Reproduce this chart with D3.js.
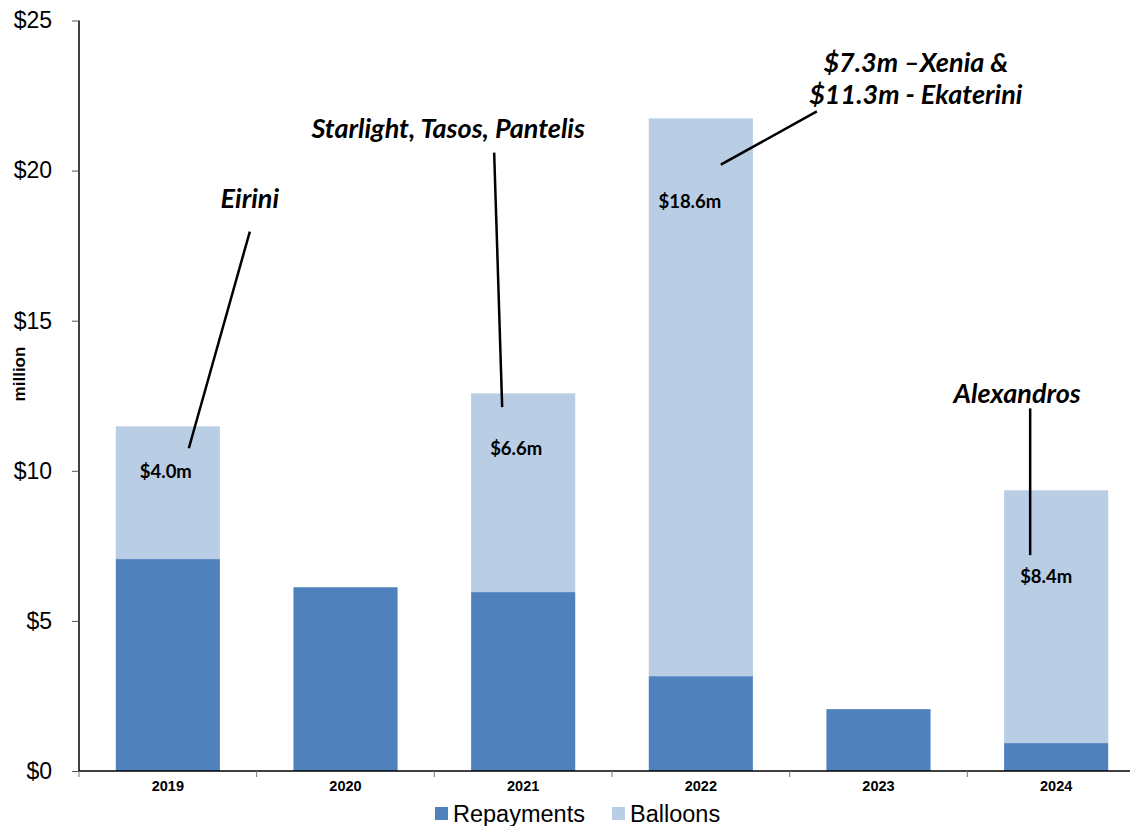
<!DOCTYPE html>
<html><head><meta charset="utf-8">
<script src="https://cdn.jsdelivr.net/npm/d3@7"></script>
<style>body{margin:0;background:#fff}</style>
</head><body>
<svg id="c" width="1130" height="826"></svg>
<script>
const categories = ["2019","2020","2021","2022","2023","2024"];
const repayments = [7.06, 6.12, 5.96, 3.16, 2.06, 0.93];
const balloons   = [4.42, 0,    6.62, 18.58, 0,   8.42];
const yTicks = [0,5,10,15,20,25];
const seriesNames = ["Repayments","Balloons"];
const colors = ["#4F81BD","#B9CDE5"];
// annotations: category, text lines, text value position, dx offset; leader line endpoints (dx, value)
const valueLabels = [
  {cat:"2019", text:"$4.0m", v:9.75, dx:-2},
  {cat:"2021", text:"$6.6m", v:10.52, dx:-7},
  {cat:"2022", text:"$18.6m", v:18.77, dx:-11},
  {cat:"2024", text:"$8.4m", v:6.26, dx:-10}
];
const callouts = [
  {cat:"2019", lines:["Eirini"], v:18.75, dx:82, line:[[82,17.97],[21,10.75]]},
  {cat:"2021", lines:["Starlight, Tasos, Pantelis"], v:21.07, dx:-75, line:[[-29,20.6],[-21,12.12]]},
  {cat:"2022", lines:["$7.3m \u2013Xenia &","$11.3m - Ekaterini"], v:23.3, dx:215, line:[[116,21.97],[20,20.2]]},
  {cat:"2024", lines:["Alexandros"], v:12.25, dx:-39, line:[[-26,12.08],[-26,7.19]]}
];

const svg = d3.select("#c");
const x = d3.scaleBand().domain(categories).range([79,1145]).paddingInner(0.414).paddingOuter(0.207);
const xb = d3.scaleBand().domain(categories).range([79,1145]);
const y = d3.scaleLinear().domain([0,25]).range([771,20.5]);

const stack = d3.stack().keys([0,1]).value((d,k)=>d[k])(categories.map((c,i)=>[repayments[i],balloons[i]]));
stack.forEach((s,si)=>{
  svg.append("g").selectAll("rect").data(s).join("rect")
    .attr("x",(d,i)=>x(categories[i])).attr("width",x.bandwidth())
    .attr("y",d=>y(d[1])).attr("height",d=>y(d[0])-y(d[1]))
    .attr("fill",colors[si]);
});

// y axis
const ya = svg.append("g").attr("transform","translate(79,0)")
  .call(d3.axisLeft(y).tickValues(yTicks).tickSize(7).tickPadding(20).tickFormat(d=>"$"+d));
ya.select(".domain").attr("stroke","#000").attr("stroke-width",1.5).attr("d","M0,20.5V771");
ya.selectAll(".tick line").attr("stroke","#555");
ya.selectAll("text").attr("font-family","Liberation Sans, Arial, sans-serif").attr("font-size",23).attr("fill","#000");

// x axis
const xa = svg.append("g").attr("transform","translate(0,771)");
xa.append("line").attr("x1",79).attr("x2",1145).attr("stroke","#000").attr("stroke-width",1.5);
xa.selectAll(".tk").data(categories.concat(["end"])).join("line")
  .attr("x1",(d,i)=>79+i*xb.step()).attr("x2",(d,i)=>79+i*xb.step()).attr("y1",0).attr("y2",6).attr("stroke","#777");
xa.selectAll("text").data(categories).join("text")
  .attr("x",d=>x(d)+x.bandwidth()/2).attr("y",20).attr("text-anchor","middle")
  .attr("font-family","Liberation Sans, Arial, sans-serif").attr("font-weight","bold").attr("font-size",14.5).text(d=>d);

// y label
svg.append("text").attr("transform","translate(25,374) rotate(-90)").attr("text-anchor","middle")
  .attr("font-family","Liberation Sans, Arial, sans-serif").attr("font-weight","bold").attr("font-size",17).text("million");

const cx = c => x(c)+x.bandwidth()/2;
// value labels
svg.selectAll(".vl").data(valueLabels).join("text")
  .attr("x",d=>cx(d.cat)+d.dx).attr("y",d=>y(d.v)).attr("text-anchor","middle")
  .attr("font-family","Lato, 'Open Sans', sans-serif").attr("font-weight","bold").attr("font-size",18.5).text(d=>d.text);

// callouts
callouts.forEach(c=>{
  svg.append("line").attr("x1",cx(c.cat)+c.line[0][0]).attr("y1",y(c.line[0][1]))
    .attr("x2",cx(c.cat)+c.line[1][0]).attr("y2",y(c.line[1][1])).attr("stroke","#000").attr("stroke-width",2.5);
  c.lines.forEach((t,i)=>{
    svg.append("text").attr("x",cx(c.cat)+c.dx).attr("y",y(c.v)+i*32).attr("text-anchor","middle")
      .attr("font-family","Lato, 'Open Sans', sans-serif").attr("font-weight","bold").attr("font-style","italic")
      .attr("font-size",27).text(t);
  });
});

// legend
const lg = svg.append("g");
const lx = [435, 612];
seriesNames.forEach((n,i)=>{
  lg.append("rect").attr("x",lx[i]).attr("y",807).attr("width",13).attr("height",13).attr("fill",colors[i]);
  lg.append("text").attr("x",lx[i]+18).attr("y",822).attr("font-family","Liberation Sans, Arial, sans-serif").attr("font-size",23.5).text(n);
});
</script>
</body></html>
